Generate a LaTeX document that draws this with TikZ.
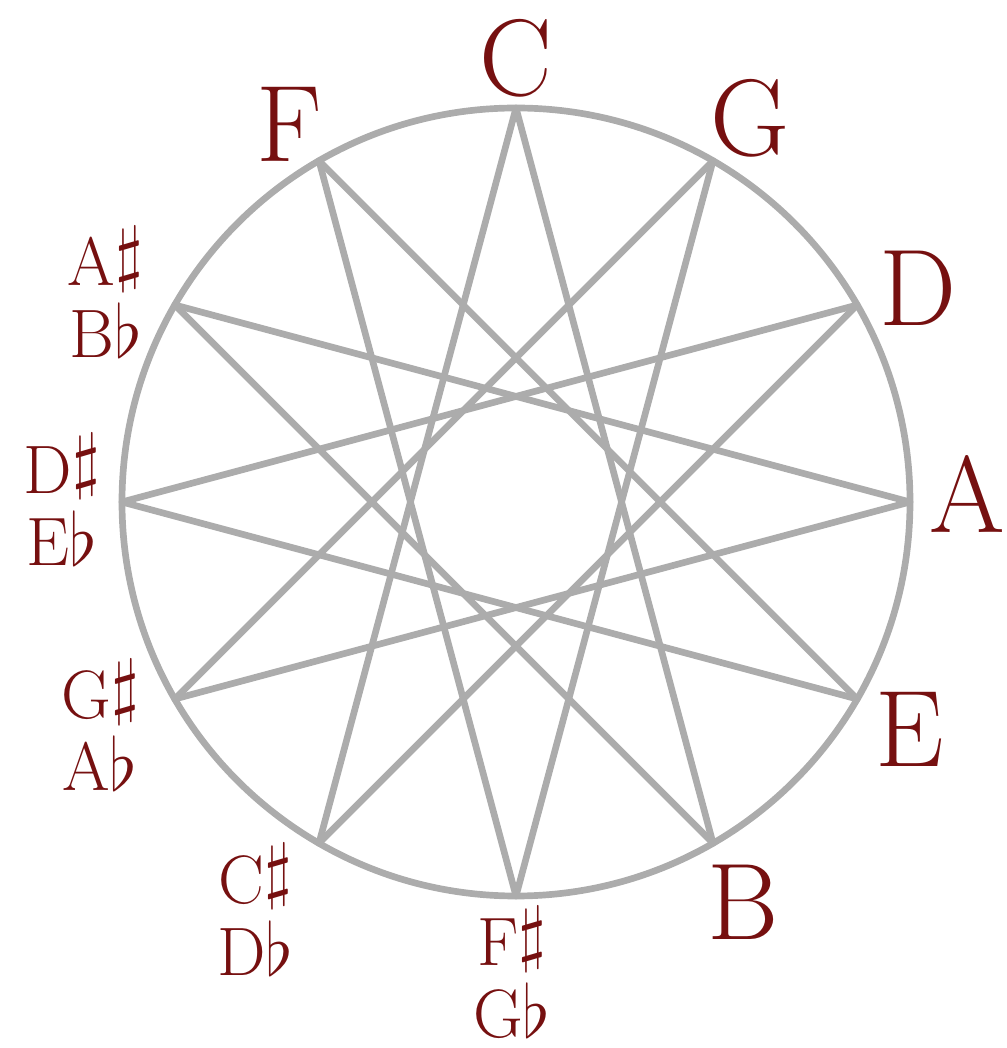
\documentclass[tikz,border=0pt]{standalone}
\usepackage{amsmath,amssymb}
\usepackage{xcolor}
\usepackage{tikz}
\usetikzlibrary{calc}
\definecolor{notered}{RGB}{118,16,16}
\definecolor{stargray}{RGB}{172,172,172}
\newcommand{\shrp}{\raisebox{2.4pt}{\fontsize{20.5}{20}\selectfont$\sharp$}}
\newcommand{\flt}{{\fontsize{21}{20}\selectfont$\flat$}}

\begin{document}
\begin{tikzpicture}[x=0.1mm,y=0.1mm,
  natural/.style={text=notered,font=\fontsize{31}{33}\selectfont,inner sep=0pt},
  accidental/.style={text=notered,font=\fontsize{19.5}{20.5}\selectfont,align=center,inner sep=0pt}]
  \useasboundingbox (-516,-546) rectangle (490,502);
  \draw[stargray,line width=1.9pt] (0,0) circle (394);
  \foreach \k in {0,...,11}
    \coordinate (p\k) at ({90-30*\k}:394);
  \foreach \k [evaluate=\k as \j using {int(mod(\k+5,12))}] in {0,...,11}
    \draw[stargray,line width=1.9pt,line cap=round] (p\k) -- (p\j);
  \node[natural] (lblC) at (90:444) {C};
  \node[natural] (lblG) at (58.6:450) {G};
  \node[natural] (lblD) at (28:455) {D};
  \node[natural] (lblA) at (1:451) {A};
  \node[natural] (lblE) at (-30:455) {E};
  \node[natural] (lblB) at (-60.4:460) {B};
  \node[accidental] (lblFs) at (-90.5:471) {F\shrp\\G\flt};
  \node[accidental] (lblCs) at (-122.6:484) {C\shrp\\D\flt};
  \node[accidental] (lblGs) at (-151.8:472) {G\shrp\\A\flt};
  \node[accidental] (lblDs) at (179.7:454) {D\shrp\\E\flt};
  \node[accidental] (lblAs) at (152.9:461) {A\shrp\\B\flt};
  \node[natural] (lblF) at (121:440) {F};
\end{tikzpicture}
\end{document}
